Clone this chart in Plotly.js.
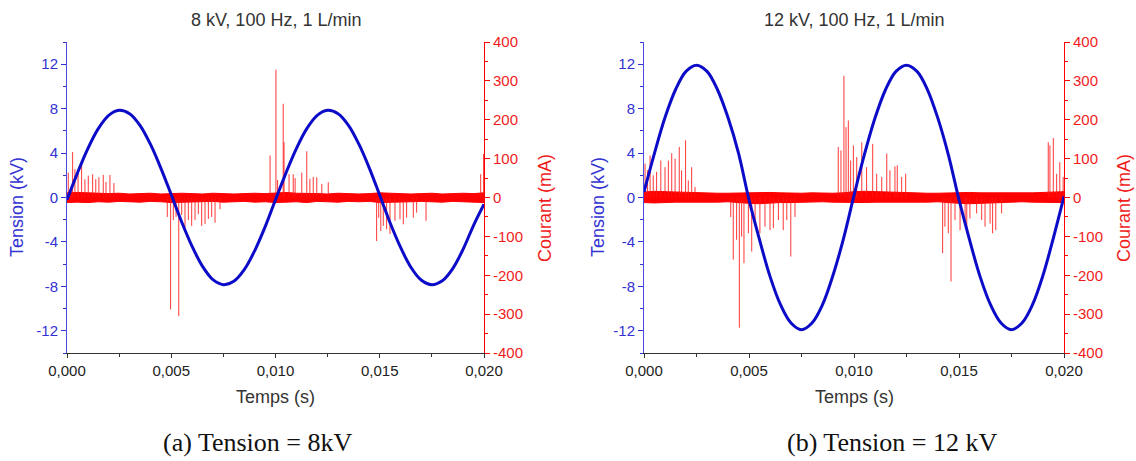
<!DOCTYPE html>
<html><head><meta charset="utf-8">
<script src="https://cdn.plot.ly/plotly-3.0.1.min.js"></script>
<style>html,body{margin:0;padding:0;background:#fff}#chart{width:1136px;height:461px}</style>
</head><body><div id="chart"></div>
<script>
// ---- sampling times for the voltage waveform and noise envelope (s)
const timeS = [0,0.0005,0.001,0.0015,0.002,0.0025,0.003,0.0035,0.004,0.0045,0.005,0.0055,0.006,0.0065,0.007,0.0075,0.008,0.0085,0.009,0.0095,0.01,0.0105,0.011,0.0115,0.012,0.0125,0.013,0.0135,0.014,0.0145,0.015,0.0155,0.016,0.0165,0.017,0.0175,0.018,0.0185,0.019,0.0195,0.02];

// ---- (a) 8 kV
const voltA = [-0.2,2.2,4.4,6.2,7.4,7.85,7.55,6.5,4.8,2.65,0.25,-2.2,-4.4,-6.2,-7.4,-7.85,-7.55,-6.5,-4.8,-2.65,-0.2,2.2,4.4,6.2,7.4,7.85,7.55,6.5,4.8,2.65,0.2,-2.3,-4.5,-6.3,-7.45,-7.85,-7.5,-6.4,-4.65,-2.5,-0.6];
const noiseHiA = [12,13,12,11,10,11,9,10,11,9,10,11,10,9,11,10,9,10,11,10,12,13,11,11,10,9,11,10,9,10,12,11,10,9,10,11,9,10,11,10,12];
const noiseLoA = [-13,-12,-13,-11,-12,-10,-11,-12,-10,-11,-13,-13,-12,-11,-10,-12,-11,-10,-12,-11,-13,-12,-11,-13,-10,-11,-12,-10,-11,-10,-13,-13,-12,-11,-10,-11,-12,-10,-11,-12,-13];
const spikeTA = [0.00006,0.00027,0.00038,0.00053,0.0007,0.00086,0.00102,0.00123,0.00138,0.00153,0.00174,0.00187,0.00206,0.00225,
  0.00481,0.00497,0.0051,0.00523,0.00536,0.0055,0.00566,0.00582,0.00598,0.00614,0.0063,0.00646,0.00662,0.00678,0.00694,0.0071,0.00734,
  0.00974,0.01002,0.0101,0.01037,0.01041,0.01065,0.01085,0.01094,0.01126,0.0115,0.01165,0.01181,0.01198,0.01222,0.01253,
  0.01485,0.01495,0.01505,0.01517,0.01533,0.01549,0.01573,0.01597,0.01613,0.01629,0.01661,0.01677,0.01722,
  0.01984,0.01998];
const spikeIA = [64,117,73,60,90,47,56,60,47,52,58,40,58,37,
  -50,-288,-58,-50,-305,-45,-77,-58,-73,-58,-43,-73,-68,-55,-50,-65,-30,
  108,329,45,241,142,60,60,50,64,119,48,53,52,35,39,
  -112,-52,-86,-73,-82,-94,-60,-56,-69,-52,-52,-39,-60,
  60,112];

// ---- (b) 12 kV
const voltB = [0.5,4.0,7.2,9.7,11.35,11.9,11.35,9.7,7.2,4.0,-0.2,-3.8,-7.1,-9.65,-11.3,-11.9,-11.3,-9.65,-7.0,-3.7,0.2,3.9,7.15,9.7,11.35,11.9,11.35,9.7,7.1,3.8,-0.2,-3.8,-7.1,-9.65,-11.3,-11.9,-11.3,-9.65,-7.0,-3.6,0.1];
const noiseHiB = [14,16,15,14,13,12,11,11,11,12,12,13,13,12,11,11,12,11,11,12,15,16,15,14,13,12,12,11,11,12,13,13,12,12,11,12,11,12,13,14,15];
const noiseLoB = [-13,-14,-13,-12,-12,-11,-12,-12,-11,-13,-15,-16,-14,-13,-13,-12,-12,-11,-12,-12,-13,-13,-12,-12,-11,-12,-12,-12,-11,-13,-15,-16,-14,-13,-12,-12,-11,-12,-12,-13,-13];
const spikeTB = [0.00005,0.00017,0.00029,0.00044,0.0006,0.0008,0.001,0.00116,0.00132,0.00148,0.00168,0.00179,0.00198,0.00211,0.00227,0.00243,
  0.00413,0.00425,0.00441,0.00454,0.00465,0.00476,0.00497,0.00513,0.00529,0.00552,0.00576,0.006,0.00616,0.0064,0.00663,0.0068,0.00699,0.00719,
  0.00925,0.00938,0.00952,0.00962,0.00973,0.00984,0.00997,0.01013,0.01037,0.0106,0.01089,0.01108,0.01132,0.01156,0.01171,0.01195,0.01206,0.01227,0.01246,
  0.01422,0.01433,0.01449,0.01462,0.01481,0.01505,0.01529,0.01537,0.01552,0.01584,0.01608,0.01624,0.01648,0.0166,0.01675,0.01703,
  0.01925,0.01933,0.01949,0.01965,0.0198,0.01996];
const spikeIB = [87,70,108,57,66,95,78,95,114,100,130,70,147,44,78,27,
  -50,-160,-109,-335,-101,-169,-92,-139,-67,-92,-75,-84,-79,-58,-84,-58,-152,-50,
  130,121,313,181,198,95,134,104,142,78,138,61,53,113,70,80,83,53,61,
  -143,-75,-92,-216,-58,-84,-67,-92,-54,-41,-58,-75,-67,-92,-84,-41,
  142,134,153,61,91,53];

// ---- ticks and labels
const xTickVals = [0,0.005,0.01,0.015,0.02];
const xTickText = ['0,000','0,005','0,010','0,015','0,020'];
const voltTickVals = [-12,-8,-4,0,4,8,12];
const voltTickText = ['-12','-8','-4','0','4','8','12'];
const curTickVals = [-400,-300,-200,-100,0,100,200,300,400];
const curTickText = ['-400','-300','-200','-100','0','100','200','300','400'];
const titlesTop = ['8 kV, 100 Hz, 1 L/min','12 kV, 100 Hz, 1 L/min'];
const captions = ['(a) Tension = 8kV','(b) Tension = 12 kV'];
const xTitle = 'Temps (s)';
const vTitle = 'Tension (kV)';
const iTitle = 'Courant (mA)';

// ---- styling
const W = 1136, H = 461;
const FONT = 'Liberation Sans, Arial, sans-serif';
const BLUE = '#0c0cc8', BLUE_T = '#3232d2', RED = '#ff0000', RED_T = '#f01c1c', DARK = '#333333';
const px = v => v / W, py = v => 1 - v / H;
const domY = [py(353), py(42)];
const domA = [px(67), px(484)];
const domB = [px(644), px(1064)];

function spikeXY(ts, is) {
  const x = [], y = [];
  ts.forEach((t, k) => { x.push(t, t, null); y.push(0, is[k], null); });
  return {x, y};
}
function bandXY(ts, hi, lo) {
  return {x: ts.concat(ts.slice().reverse()), y: hi.concat(lo.slice().reverse())};
}

function traces(volt, hi, lo, sT, sI, xa, ya_cur, ya_volt) {
  const b = bandXY(timeS, hi, lo);
  const s = spikeXY(sT, sI);
  return [
    {type:'scatter', mode:'lines', x:b.x, y:b.y, fill:'toself', fillcolor:RED,
     line:{color:RED, width:1}, xaxis:xa, yaxis:ya_cur, hoverinfo:'skip', showlegend:false},
    {type:'scatter', mode:'lines', x:s.x, y:s.y, line:{color:'rgba(255,20,20,0.85)', width:1},
     xaxis:xa, yaxis:ya_cur, connectgaps:false, hoverinfo:'skip', showlegend:false},
    {type:'scatter', mode:'lines', x:timeS, y:volt, line:{color:BLUE, width:3, shape:'spline', smoothing:1},
     xaxis:xa, yaxis:ya_volt, hoverinfo:'skip', showlegend:false}
  ];
}

const data = [].concat(
  traces(voltA, noiseHiA, noiseLoA, spikeTA, spikeIA, 'x', 'y', 'y2'),
  traces(voltB, noiseHiB, noiseLoB, spikeTB, spikeIB, 'x2', 'y3', 'y4')
);

function xBottom(dom, anchor) {
  return {domain:dom, anchor:anchor, range:[0,0.02], tickmode:'array', tickvals:xTickVals, ticktext:xTickText,
    ticks:'outside', ticklen:4, tickwidth:1, tickcolor:DARK, showline:true, linecolor:DARK, linewidth:1,
    showgrid:false, zeroline:false, tickfont:{family:FONT, size:15, color:'#222'},
    minor:{tickmode:'linear', tick0:0, dtick:0.0025, ticks:'outside', ticklen:3, tickcolor:DARK}};
}
function xTop(over, anchor) {
  return {overlaying:over, anchor:anchor, side:'top', range:[0,0.02], tickmode:'array', tickvals:xTickVals,
    showticklabels:false, ticks:'inside', ticklen:4, tickcolor:DARK, showline:true, linecolor:DARK, linewidth:1,
    showgrid:false, zeroline:false,
    minor:{tickmode:'linear', tick0:0, dtick:0.0025, ticks:'inside', ticklen:3, tickcolor:DARK}};
}
function yCur(anchor) {
  return {domain:domY, anchor:anchor, side:'right', range:[-400,400], tickmode:'array', tickvals:curTickVals, ticktext:curTickText,
    ticks:'outside', ticklen:5, tickcolor:RED, showline:true, linecolor:RED, linewidth:1, showgrid:false, zeroline:false,
    tickfont:{family:FONT, size:15, color:RED_T},
    minor:{tickmode:'linear', tick0:0, dtick:50, ticks:'outside', ticklen:3, tickcolor:RED}};
}
function yVolt(over, anchor) {
  return {overlaying:over, anchor:anchor, side:'left', range:[-14,14], tickmode:'array', tickvals:voltTickVals, ticktext:voltTickText,
    ticks:'outside', ticklen:5, tickcolor:BLUE_T, showline:true, linecolor:'#4a4ae0', linewidth:1, showgrid:false, zeroline:false,
    tickfont:{family:FONT, size:15, color:BLUE_T},
    minor:{tickmode:'linear', tick0:0, dtick:2, ticks:'outside', ticklen:3, tickcolor:BLUE_T}};
}

function ann(text, x, y, opts) {
  return Object.assign({text:text, x:px(x), y:py(y), xref:'paper', yref:'paper', xanchor:'center', yanchor:'middle',
    showarrow:false, font:{family:FONT, size:18, color:DARK}}, opts || {});
}

const annotations = [
  ann(titlesTop[0], 275.5, 20),
  ann(titlesTop[1], 854, 20),
  ann(xTitle, 275.5, 397),
  ann(xTitle, 854, 397),
  ann(vTitle, 17, 207, {textangle:-90, font:{family:FONT, size:18, color:BLUE_T}}),
  ann(vTitle, 598, 207, {textangle:-90, font:{family:FONT, size:18, color:BLUE_T}}),
  ann(iTitle, 545, 208, {textangle:-90, font:{family:FONT, size:18, color:RED_T}}),
  ann(iTitle, 1124, 208, {textangle:-90, font:{family:FONT, size:18, color:RED_T}}),
  ann(captions[0], 257, 442, {font:{family:'Liberation Serif, Times New Roman, serif', size:26, color:'#111'}}),
  ann(captions[1], 892, 442, {font:{family:'Liberation Serif, Times New Roman, serif', size:26, color:'#111'}})
];

const layout = {
  width:W, height:H, margin:{l:0, r:0, t:0, b:0}, paper_bgcolor:'#ffffff', plot_bgcolor:'rgba(0,0,0,0)',
  showlegend:false,
  xaxis: xBottom(domA, 'y'),
  xaxis2: xBottom(domB, 'y3'),
  xaxis3: xTop('x', 'y'),
  xaxis4: xTop('x2', 'y3'),
  yaxis: yCur('x'),
  yaxis2: yVolt('y', 'x'),
  yaxis3: yCur('x2'),
  yaxis4: yVolt('y3', 'x2'),
  annotations: annotations
};

Plotly.newPlot('chart', data, layout, {staticPlot:true, displayModeBar:false});
</script>
</body></html>
